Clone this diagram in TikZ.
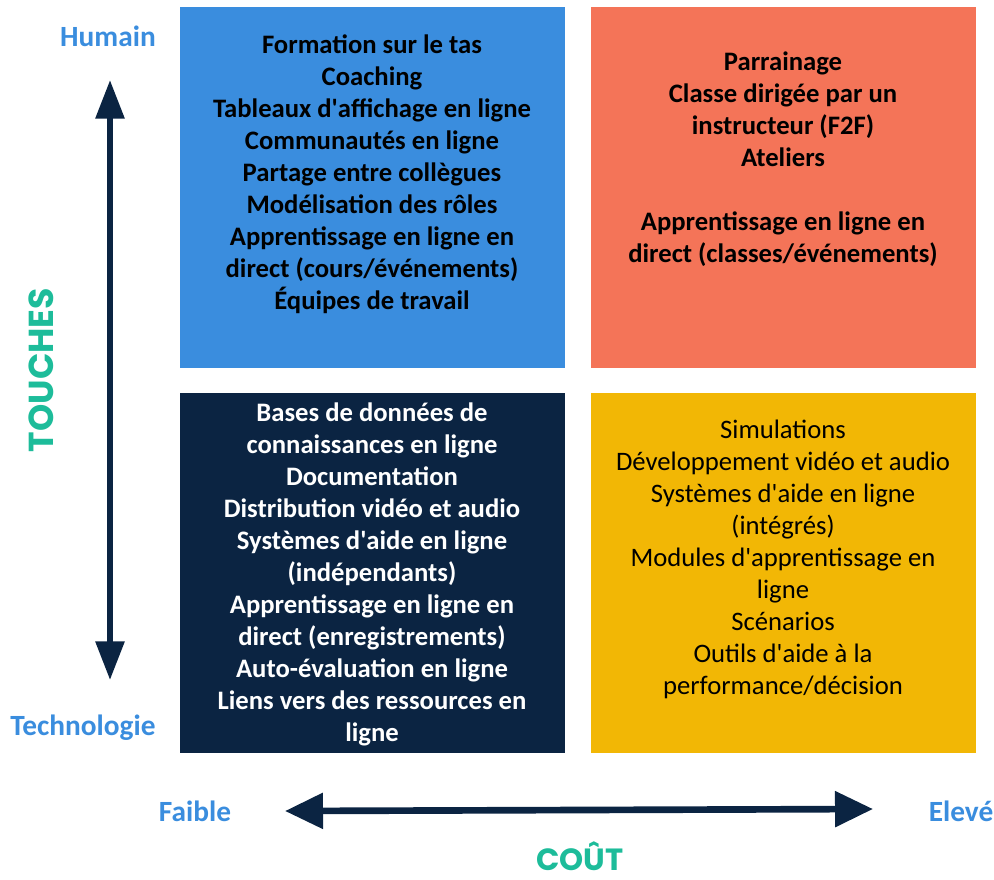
\documentclass[tikz,border=0pt]{standalone}
\usepackage{fontspec}
\setmainfont{Carlito}
\newfontfamily\titlefont{Poppins}[UprightFont=* Bold]
\usetikzlibrary{arrows.meta}

\definecolor{humblue}{HTML}{3A8DDE}
\definecolor{coral}{HTML}{F47458}
\definecolor{navy}{HTML}{0B2442}
\definecolor{gold}{HTML}{F2B705}
\definecolor{teal}{HTML}{1DBC9A}

\newcommand{\apos}{\textquotesingle}

\tikzset{
  quadtext/.style={align=center, font=\fontsize{20}{24}\selectfont\bfseries, inner sep=0pt},
  axislabel/.style={font=\fontsize{22}{24}\selectfont\bfseries, text=humblue, inner sep=0pt},
  axistitle/.style={font=\fontsize{26}{28}\selectfont\titlefont, text=teal, inner sep=0pt},
  axisarrow/.style={draw=navy, line width=4.5pt}
}

\begin{document}
\begin{tikzpicture}[x=0.75pt, y=-0.75pt]
\useasboundingbox (0, 0) rectangle (994, 879);
% quadrants
\fill[humblue] (180, 7) rectangle (565, 368);
\fill[coral] (591, 7) rectangle (976, 368);
\fill[navy] (180, 393) rectangle (565, 753);
\fill[gold] (591, 393) rectangle (976, 753);
% contents
\node[quadtext] (hl) at (372, 174) {Formation sur le tas\\Coaching\\Tableaux d\apos affichage en ligne\\Communautés en ligne\\Partage entre collègues\\Modélisation des rôles\\Apprentissage en ligne en\\direct (cours/événements)\\Équipes de travail};
\node[quadtext] (hh) at (783, 159) {Parrainage\\Classe dirigée par un\\instructeur (F2F)\\Ateliers\\[24pt]Apprentissage en ligne en\\direct (classes/événements)};
\node[quadtext, text=white] (tl) at (372, 574) {Bases de données de\\connaissances en ligne\\Documentation\\Distribution vidéo et audio\\Systèmes d\apos aide en ligne\\(indépendants)\\Apprentissage en ligne en\\direct (enregistrements)\\Auto-évaluation en ligne\\Liens vers des ressources en\\ligne};
\node[quadtext, font=\fontsize{20}{24}\selectfont] (th) at (783, 559) {Simulations\\Développement vidéo et audio\\Systèmes d\apos aide en ligne\\(intégrés)\\Modules d\apos apprentissage en\\ligne\\Scénarios\\Outils d\apos aide à la\\performance/décision};
% axes
\node[axislabel] (humain) at (108, 36) {Humain};
\node[axislabel] (techno) at (83, 728) {Technologie};
\node[axislabel] (faible) at (195, 811) {Faible};
\node[axislabel] (eleve) at (961, 811) {Elevé};
\node[axistitle, rotate=90] (touches) at (41, 370) {TOUCHES};
\node[axistitle, font=\fontsize{23}{26}\selectfont\titlefont, anchor=base] (cout) at (580, 870) {COÛT};
\coordinate (vtop) at (110, 80);
\coordinate (vbot) at (110, 680);
\coordinate (hleft) at (285, 811);
\coordinate (hright) at (873, 809);
\draw[axisarrow, {Triangle[length=29pt, width=21pt]}-{Triangle[length=29pt, width=21pt]}] (vtop) -- (vbot);
\draw[axisarrow, line width=5pt, {Triangle[length=28.5pt, width=26pt]}-{Triangle[length=28.5pt, width=26pt]}] (hleft) -- (hright);
\end{tikzpicture}
\end{document}
